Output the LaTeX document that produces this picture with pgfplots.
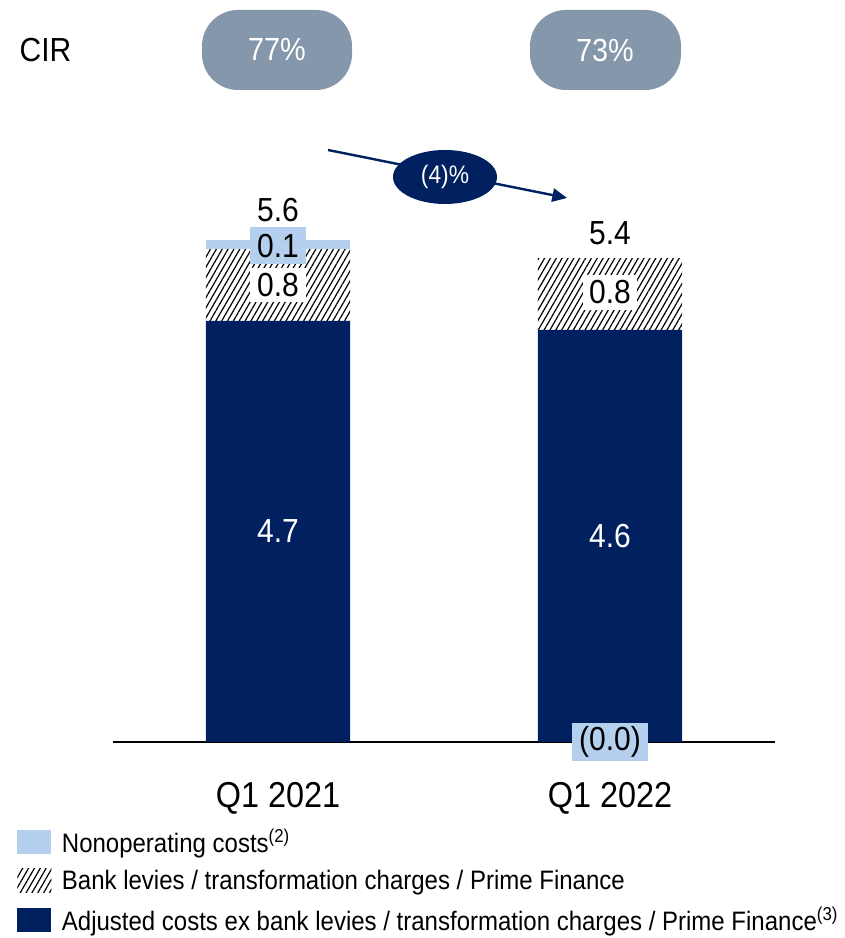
\documentclass[border=0pt]{standalone}
\usepackage{pgfplots}
\pgfplotsset{compat=1.18}
\usepackage{fontspec}
\setmainfont{Liberation Sans}[FakeStretch=0.9]
\usetikzlibrary{patterns.meta,arrows.meta,shapes.geometric}
\definecolor{navy}{RGB}{0,32,96}
\definecolor{lightb}{RGB}{180,208,238}
\definecolor{pill}{RGB}{132,151,171}
\begin{document}
\begin{tikzpicture}[x=0.75pt,y=0.75pt]
\path[use as bounding box] (0,0) rectangle (845,938);
% CIR row
\node[anchor=west,font=\fontsize{25}{28}\selectfont] at (15,888) {CIR};
\fill[pill,rounded corners=27pt] (202,848) rectangle (352,928);
\node[white,font=\fontsize{24}{28}\selectfont] at (277,888) {77\%};
\fill[pill,rounded corners=27pt] (530,848) rectangle (681,928);
\node[white,font=\fontsize{24}{28}\selectfont] at (605,888) {73\%};
% change arrow
\draw[navy,line width=1.8pt,-{Triangle[length=11pt,width=10pt]}] (328,788) -- (567,740);
\node[ellipse,fill=navy,minimum width=104*0.75pt,minimum height=54*0.75pt,inner sep=0pt,text=white,font=\fontsize{19}{22}\selectfont] at (445,761) {(4)\%};
\begin{axis}[
  at={(84.75pt,147pt)}, anchor=south west,
  scale only axis, width=496.5pt, height=403.2pt,
  xmin=-0.497, xmax=1.497, ymin=0, ymax=6,
  ybar stacked, bar width=0.434,
  axis x line*=bottom, hide y axis,
  x axis line style={-,black,line width=1pt},
  xtick={0,1}, xticklabels={Q1 2021,Q1 2022},
  major tick length=0pt, ytick=\empty,
  xticklabel style={font=\fontsize{27}{30}\selectfont, yshift=-27pt},
  clip=false,
  legend style={at={(-0.145,-0.157)}, anchor=north west, draw=none, fill=none,
    font=\fontsize{20}{23}\selectfont, row sep=7.5pt, inner sep=0pt,
    cells={anchor=west},
    /tikz/every odd column/.style={column sep=6pt}},
  legend cell align=left,
  reverse legend,
  legend image code/.code={\path[#1] (0pt,-9pt) rectangle (25.5pt,9pt);},
]
\addplot[fill=navy,draw=none] coordinates {(0,4.7) (1,4.6)};
\addlegendentry{Adjusted costs ex bank levies / transformation charges / Prime Finance\textsuperscript{(3)}}
\addplot[pattern={Lines[angle=60,distance=3.8pt,line width=0.9pt]},pattern color=black,draw=none] coordinates {(0,0.8) (1,0.8)};
\addlegendentry{Bank levies / transformation charges / Prime Finance}
\addplot[fill=lightb,draw=none] coordinates {(0,0.1) (1,0.0)};
\addlegendentry{Nonoperating costs\textsuperscript{(2)}}
% label positions
\coordinate (l47) at (axis cs:0,2.35);
\coordinate (l46) at (axis cs:1,2.30);
\coordinate (l08a) at (axis cs:0,5.10);
\coordinate (l08b) at (axis cs:1,5.02);
\coordinate (l01) at (axis cs:0,5.54);
\coordinate (l56) at (axis cs:0,5.94);
\coordinate (l54) at (axis cs:1,5.68);
\coordinate (l00) at (axis cs:1,0);
\end{axis}
\node[white,font=\fontsize{25}{28}\selectfont] at (l47) {4.7};
\node[white,font=\fontsize{25}{28}\selectfont] at (l46) {4.6};
\node[fill=white,inner sep=0pt,minimum width=42pt,minimum height=26pt,font=\fontsize{25}{28}\selectfont] at (l08a) {0.8};
\node[fill=white,inner sep=0pt,minimum width=40pt,minimum height=26pt,font=\fontsize{25}{28}\selectfont] at (l08b) {0.8};
\node[fill=lightb,inner sep=0pt,minimum width=42pt,minimum height=28pt,font=\fontsize{25}{28}\selectfont] at (l01) {0.1};
\node[font=\fontsize{25}{28}\selectfont] at (l56) {5.6};
\node[font=\fontsize{25}{28}\selectfont] at (l54) {5.4};
\node[fill=lightb,inner sep=0pt,minimum width=57pt,minimum height=29pt,font=\fontsize{25}{28}\selectfont] at (l00) {(0.0)};
\end{tikzpicture}
\end{document}
